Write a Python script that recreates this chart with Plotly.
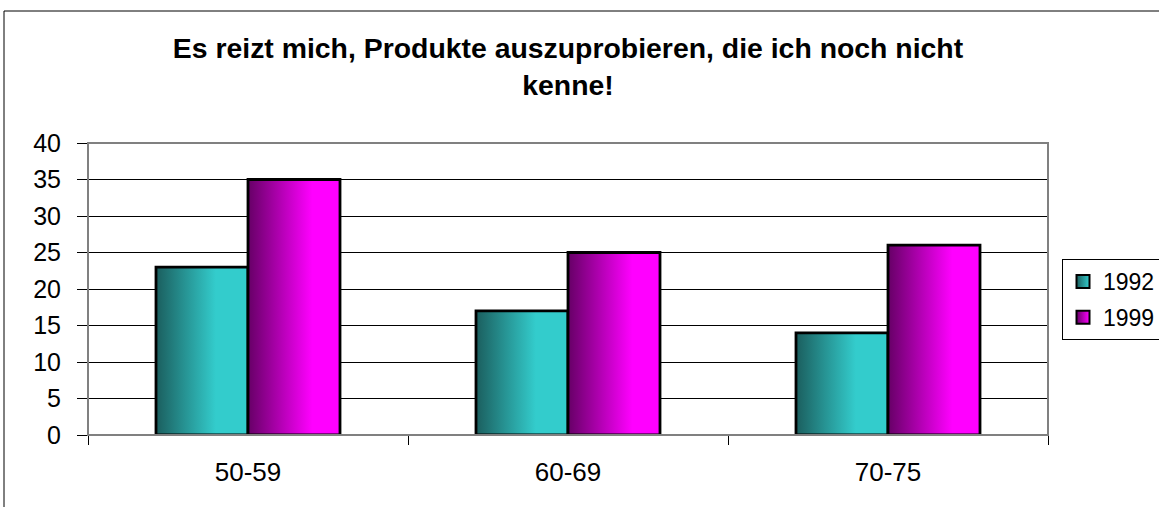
import plotly.graph_objects as go

categories = ["50-59", "60-69", "70-75"]
series_names = ["1992", "1999"]
values_1992 = [23, 17, 14]
values_1999 = [35, 25, 26]
y_ticks = [0, 5, 10, 15, 20, 25, 30, 35, 40]
title_text = "Es reizt mich, Produkte auszuprobieren, die ich noch nicht<br>kenne!"

series_values = [values_1992, values_1999]
gradients = [
    [[0, "#1b5e5e"], [0.65, "#33cccc"], [1, "#33cccc"]],
    [[0, "#660066"], [0.7, "#ff00ff"], [1, "#ff00ff"]],
]
dark = ["#1b5e5e", "#660066"]
solid = ["#33cccc", "#ff00ff"]

FONT = "Liberation Sans, Arial, sans-serif"
bar_w = 0.2875  # fraction of category width per bar

fig = go.Figure()
for k, (name, vals) in enumerate(zip(series_names, series_values)):
    for i, v in enumerate(vals):
        x0 = i - bar_w + k * bar_w
        x1 = x0 + bar_w
        fig.add_trace(go.Scatter(
            x=[x0, x1, x1, x0, x0],
            y=[0, 0, v, v, 0],
            mode="lines",
            fill="toself",
            fillcolor=solid[k],
            fillgradient=dict(type="horizontal", colorscale=gradients[k]),
            line=dict(color="black", width=2.8),
            name=name,
            legendgroup=name,
            showlegend=False,
            hoverinfo="text",
            text=f"{name} – {categories[i]}: {v}",
        ))
    # legend key
    fig.add_trace(go.Scatter(
        x=[None], y=[None], mode="markers",
        marker=dict(symbol="square", size=13, color=dark[k],
                    gradient=dict(type="horizontal", color=solid[k]),
                    line=dict(color="black", width=2)),
        name=name, legendgroup=name, showlegend=True,
    ))

fig.update_layout(
    width=1159, height=507,
    margin=dict(l=88, r=111, t=143, b=72),
    paper_bgcolor="white", plot_bgcolor="white",
    font=dict(family=FONT, size=25, color="black"),
    title=dict(
        text=title_text,
        x=0.5, xref="paper", xanchor="center",
        y=1 - 58 / 507, yref="container", yanchor="top",
        font=dict(family=FONT, size=28.4, color="black", weight="bold"),
    ),
    xaxis=dict(
        range=[-0.5, 2.5],
        tickmode="array", tickvals=list(range(len(categories))), ticktext=categories,
        ticks="", showgrid=False, zeroline=False,
        showline=False,
        ticklabelstandoff=19,
        tickfont=dict(family=FONT, size=26),
        minor=dict(tickmode="linear", tick0=-0.5, dtick=1, ticks="outside",
                   ticklen=9, tickcolor="black", tickwidth=1, showgrid=False),
        fixedrange=True,
    ),
    yaxis=dict(
        range=[0, 40],
        tickmode="array", tickvals=y_ticks,
        ticks="outside", ticklen=10, tickcolor="black", tickwidth=1,
        showgrid=True, gridcolor="black", gridwidth=1,
        zeroline=False, showline=False,
        ticklabelstandoff=11,
        tickfont=dict(family=FONT, size=25),
        fixedrange=True,
    ),
    legend=dict(
        x=1062 / 1159, y=1 - 259 / 507, xref="container", yref="container",
        xanchor="left", yanchor="top",
        bordercolor="black", borderwidth=1, bgcolor="white",
        font=dict(family=FONT, size=23),
        itemwidth=30, tracegroupgap=3,
    ),
    shapes=[
        dict(type="rect", xref="paper", yref="paper", x0=0, x1=1, y0=0, y1=1,
             line=dict(color="#808080", width=2), layer="above"),
        dict(type="rect", xref="paper", yref="paper",
             x0=(4 - 88) / 960, x1=1.3, y0=-0.5, y1=(435 - 11) / 292,
             line=dict(color="black", width=1), layer="below"),
    ],
)

fig.write_html(
    "out.html",
    config={"displayModeBar": False},
    post_script="document.body.style.margin='0';document.body.style.overflow='hidden';",
)
